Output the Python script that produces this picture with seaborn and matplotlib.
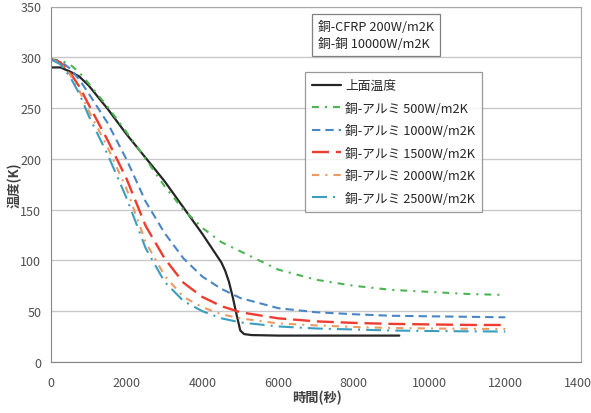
import matplotlib
matplotlib.use("Agg")
import matplotlib.pyplot as plt
import seaborn as sns

# time axis (seconds) shared by the cooling curves
t_cu = [0, 250, 500, 750, 1000, 1500, 2000, 2500, 3000, 3500, 4000, 4500,
        5000, 6000, 7000, 8000, 9000, 10000, 11000, 12000]
al_500 = [298, 297, 293, 285, 274, 251, 226, 200, 173, 150, 132, 118,
          109, 91, 81, 75, 71, 69, 67, 66]
al_1000 = [298, 296, 289, 278, 264, 235, 199, 158, 127, 102, 84, 72,
           63, 53, 49, 47, 45.5, 45, 44.5, 44]
al_1500 = [298, 295, 285, 271, 253, 218, 180, 134, 102, 78, 64, 55,
           49, 43, 40, 38.5, 37.5, 37, 36.5, 36.4]
al_2000 = [298, 294, 283, 267, 247, 211, 170, 118, 85, 64, 54, 47,
           43, 38, 36, 34.5, 33.5, 33, 32.7, 32.5]
al_2500 = [298, 293, 281, 264, 242, 204, 161, 112, 79, 60, 50, 43,
           39, 35, 33, 32, 31, 30.5, 30.2, 30]

# top surface temperature
t_top = [0, 250, 500, 750, 1000, 1500, 2000, 2500, 3000, 3500, 4000, 4500,
         4600, 4700, 4800, 4900, 5000, 5100, 5300, 6000, 7000, 8000, 9200]
top = [290, 290, 286, 281, 272, 249, 224, 201, 178, 152, 126, 98,
       90, 79, 64, 47, 31, 27.5, 26.5, 26, 26, 26, 26]

labels = ["上面温度", "銅-アルミ 500W/m2K", "銅-アルミ 1000W/m2K",
          "銅-アルミ 1500W/m2K", "銅-アルミ 2000W/m2K", "銅-アルミ 2500W/m2K"]
note = "銅-CFRP 200W/m2K\n銅-銅 10000W/m2K"

sns.set_style("white")
plt.rcParams["font.family"] = ["Noto Sans CJK JP", "DejaVu Sans"]

fig = plt.figure(figsize=(5.91, 4.14), dpi=100)
ax = fig.add_axes([51 / 591, 1 - 363 / 414, 530 / 591, 355.5 / 414])

sns.lineplot(x=t_top, y=top, ax=ax, color="#262626", linewidth=1.6,
             label=labels[0], sort=False)
series = [
    (al_500, "#4cb553", (0, (3.3, 2.9, 1, 2.9)), 1.5),
    (al_1000, "#4a86c4", (0, (4, 2.4)), 1.5),
    (al_1500, "#ee3d30", (0, (7.2, 2.9)), 1.7),
    (al_2000, "#ec9a60", (0, (3.5, 2.9, 1, 2.9)), 1.5),
    (al_2500, "#3a9ec0", (0, (7.2, 2.9, 1, 2.9)), 1.5),
]
for (vals, col, ls, lw), lab in zip(series, labels[1:]):
    sns.lineplot(x=t_cu, y=vals, ax=ax, color=col, linewidth=lw,
                 linestyle=ls, label=lab, sort=False)

ax.set_xlim(0, 14000)
ax.set_ylim(0, 350)
ax.set_xticks(range(0, 14001, 2000))
ax.set_yticks(range(0, 351, 50))
ax.grid(axis="y", color="#c8c8c8", linewidth=1)
ax.set_axisbelow(True)
for s in ax.spines.values():
    s.set_color("#a6a6a6")
ax.spines["left"].set_color("#868686")
ax.spines["bottom"].set_color("#868686")
ax.tick_params(axis="both", direction="out", length=4, width=0.8,
               color="#868686", labelcolor="#505050", labelsize=9)
ax.tick_params(axis="x", pad=6)
ax.tick_params(axis="y", pad=3)

fig.text(317 / 591, 1 - 398 / 414, "時間(秒)", ha="center", va="center",
         fontsize=9.5, fontweight="bold", color="#404040")
fig.text(15 / 591, 1 - 185 / 414, "温度(K)", ha="center", va="center",
         rotation=90, fontsize=9.5, fontweight="bold", color="#404040")

fig.text(318 / 591, 1 - 36 / 414, note, ha="left", va="center",
         fontsize=9.2, color="#262626", linespacing=1.4,
         bbox=dict(boxstyle="square,pad=0.45", facecolor="white",
                   edgecolor="#808080", linewidth=0.9))

leg = ax.legend(loc="upper left", bbox_to_anchor=(305 / 591, 1 - 73 / 414),
                bbox_transform=fig.transFigure, borderaxespad=0,
                fontsize=9.2, frameon=True, fancybox=False,
                handlelength=2.3, handletextpad=0.3, labelspacing=0.75,
                borderpad=0.55)
leg.get_frame().set_edgecolor("#808080")
leg.get_frame().set_linewidth(0.9)
for txt in leg.get_texts():
    txt.set_color("#262626")

fig.savefig("out.png", dpi=100)
